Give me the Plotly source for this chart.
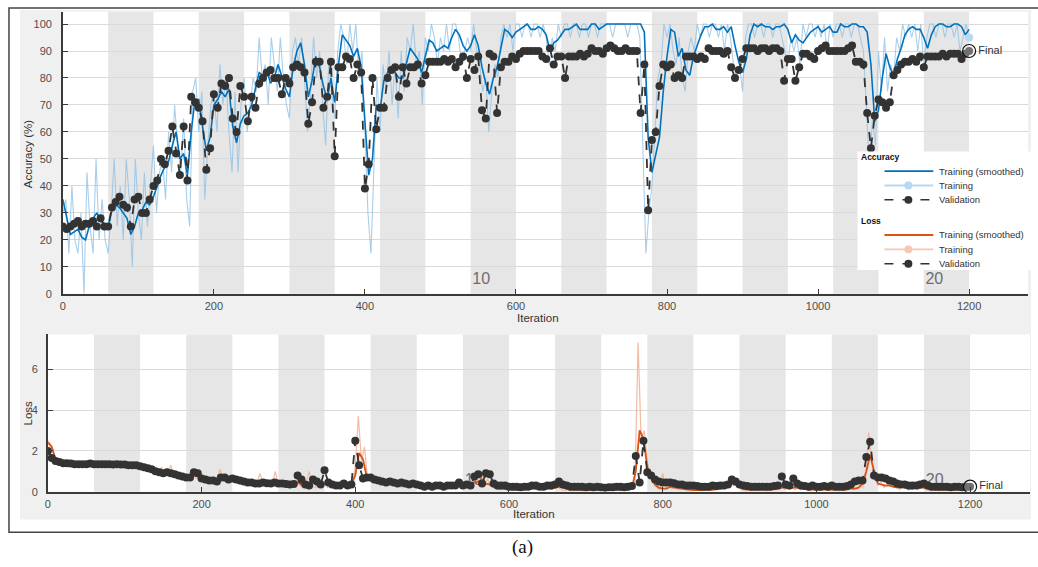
import plotly.graph_objects as go

W, H = 1038, 567

# ---------------- data ----------------
val_step = 5
acc_val = [25,24,25,26,27,25,26,26,27,25,28,25,25,
           32,34,36,33,32,25,35,36,30,30,35,40,42,50,48,53,62,52,44,62,42,73,71,69,64,46,54,74,
           69,78,77,80,65,60,77,73,64,73,69,78,80,82,83,80,80,74,80,78,84,85,84,82,63,71,86,86,69,73,86,51,84,84,88,87,80,85,82,
           39,48,80,61,69,69,80,83,84,73,84,78,84,84,85,78,81,86,86,86,86,87,86,87,84,86,88,80,87,83,88,68,65,89,88,67,84,86,86,88,87,
           89,90,90,90,90,90,88,87,91,85,88,88,80,88,88,88,89,88,89,91,90,90,89,91,92,91,90,90,91,90,90,90,67,85,31,57,60,77,85,84,
           85,80,81,80,88,88,88,87,88,87,91,90,90,90,89,90,84,80,83,87,91,91,91,90,91,91,90,91,91,90,79,87,87,79,84,89,89,88,87,90,
           91,92,90,90,90,90,90,91,92,86,86,85,67,54,66,72,71,69,71,81,83,85,86,86,87,86,88,84,88,88,88,88,89,88,89,89,89,87,89,90]

acc_smooth = [35,28,22,23,24,21,20,25,28,30,27,26,25,
              31,33,32,30,28,22,25,30,31,34,33,36,40,44,47,49,55,60,50,52,44,60,72,72,62,53,58,70,
              72,75,73,76,62,56,63,66,67,70,76,82,81,83,78,80,85,80,76,73,84,90,93,85,73,79,88,84,77,72,80,71,85,96,94,92,88,91,84,
              65,44,50,70,68,79,82,84,82,80,80,86,91,89,87,82,88,94,93,90,91,92,91,95,98,96,92,90,92,96,92,84,78,74,80,84,91,98,97,95,97,
              98,99,100,98,98,99,98,96,90,93,94,96,98,98,99,100,98,98,98,100,100,98,99,100,100,100,100,100,100,100,100,100,100,97,58,45,52,58,75,88,
              98,97,88,91,83,81,88,92,96,99,99,100,98,98,99,97,99,92,86,82,87,96,100,99,100,99,99,98,99,99,100,98,93,96,94,93,95,97,98,99,
              97,98,99,97,97,100,99,99,100,100,99,99,97,85,64,68,80,89,84,81,87,91,96,98,99,98,98,95,91,96,99,100,100,99,99,100,100,99,96,98,97]

raw_step = 4
acc_train_raw = [30,35,15,40,20,15,30,0,45,25,15,50,20,35,20,15,
                 30,50,25,40,20,50,35,10,50,30,20,45,25,40,55,30,
                 45,50,35,60,45,70,55,45,65,35,25,75,80,60,75,35,
                 55,70,75,60,85,70,80,60,45,75,45,70,80,60,70,80,
                 75,95,80,85,70,95,85,75,95,80,70,65,90,95,85,95,
                 80,60,75,95,80,90,70,55,85,75,65,90,100,95,85,100,
                 90,100,80,90,60,30,15,45,80,60,85,75,90,70,85,65,
                 90,75,95,90,100,85,90,70,95,90,100,95,85,95,90,100,
                 90,100,100,95,85,90,95,90,100,90,85,75,80,60,75,85,
                 80,95,100,95,100,90,100,100,95,100,100,95,100,100,95,100,
                 95,85,95,90,100,95,100,100,95,100,100,95,100,100,95,100,
                 100,95,100,100,100,100,95,100,100,100,100,95,100,100,100,95,
                 55,15,30,40,60,80,85,100,95,100,90,85,95,80,75,90,
                 95,90,100,95,100,100,95,100,100,95,100,90,100,95,85,80,
                 85,75,95,100,100,95,100,100,95,100,100,95,100,100,95,90,
                 85,95,90,95,85,100,95,100,100,95,100,95,100,90,100,95,
                 100,100,95,100,100,95,100,100,95,90,70,45,65,55,90,75,
                 95,75,85,80,95,90,100,95,100,95,100,90,100,85,95,100,
                 100,95,100,100,95,100,100,95,100,90,95,100,95]

loss_val = [2.0,1.65,1.5,1.45,1.4,1.4,1.38,1.35,1.35,1.35,1.35,1.38,1.35,1.35,1.35,1.35,1.35,1.33,1.35,1.33,
            1.33,1.3,1.3,1.3,1.25,1.2,1.15,1.1,1.0,0.95,0.9,0.95,0.9,0.85,0.8,0.75,0.7,0.7,0.95,0.9,
            0.65,0.6,0.55,0.55,0.5,0.7,0.7,0.6,0.65,0.6,0.55,0.5,0.45,0.45,0.4,0.4,0.45,0.42,0.4,0.45,
            0.4,0.4,0.38,0.35,0.38,0.8,0.6,0.35,0.3,0.6,0.5,0.35,1.05,0.45,0.35,0.3,0.3,0.4,0.3,0.35,
            2.5,1.3,0.65,0.7,0.7,0.6,0.55,0.5,0.45,0.5,0.45,0.4,0.45,0.4,0.35,0.4,0.35,0.3,0.25,0.3,
            0.25,0.3,0.3,0.25,0.3,0.3,0.3,0.45,0.3,0.35,0.3,0.75,0.85,0.4,0.9,0.85,0.4,0.3,0.3,0.3,
            0.25,0.25,0.25,0.22,0.25,0.25,0.3,0.3,0.25,0.25,0.3,0.3,0.35,0.5,0.35,0.3,0.25,0.25,0.25,0.25,
            0.22,0.25,0.22,0.25,0.22,0.2,0.22,0.22,0.25,0.25,0.22,0.25,0.28,1.75,0.45,2.5,0.95,0.8,0.6,0.5,
            0.45,0.45,0.45,0.42,0.35,0.35,0.3,0.3,0.3,0.28,0.25,0.25,0.25,0.3,0.28,0.3,0.3,0.35,0.6,0.5,
            0.35,0.3,0.28,0.25,0.25,0.25,0.25,0.25,0.25,0.28,0.3,0.75,0.35,0.3,0.65,0.4,0.3,0.28,0.25,0.3,
            0.25,0.25,0.28,0.25,0.3,0.25,0.25,0.25,0.28,0.35,0.5,0.55,0.55,1.7,2.45,0.8,0.7,0.7,0.65,0.55,
            0.5,0.4,0.35,0.35,0.3,0.3,0.3,0.35,0.4,0.3,0.25,0.25,0.25,0.25,0.25,0.22,0.25,0.25,0.22,0.25,0.25]

loss_smooth = [2.4,2.2,1.6,1.45,1.4,1.35,1.35,1.35,1.35,1.35,1.35,1.35,1.35,1.35,1.35,1.35,1.35,1.32,1.33,1.32,
               1.32,1.3,1.3,1.28,1.25,1.2,1.1,1.05,1.0,0.95,0.9,0.95,1.0,0.85,0.75,0.75,0.7,0.65,0.8,0.75,
               0.6,0.55,0.55,0.5,0.55,0.65,0.6,0.55,0.55,0.5,0.5,0.45,0.45,0.4,0.4,0.45,0.45,0.35,0.4,0.45,
               0.35,0.35,0.3,0.35,0.4,0.45,0.35,0.3,0.35,0.5,0.35,0.3,0.4,0.4,0.3,0.3,0.25,0.3,0.3,0.35,
               0.8,1.9,1.6,0.7,0.55,0.5,0.45,0.45,0.4,0.4,0.4,0.35,0.35,0.3,0.3,0.35,0.3,0.25,0.25,0.25,
               0.2,0.2,0.25,0.2,0.2,0.2,0.25,0.3,0.25,0.3,0.35,0.45,0.5,0.55,0.4,0.35,0.25,0.15,0.15,0.15,
               0.15,0.12,0.1,0.1,0.12,0.15,0.15,0.12,0.15,0.2,0.15,0.15,0.2,0.25,0.2,0.15,0.1,0.1,0.12,0.1,
               0.08,0.1,0.1,0.08,0.08,0.07,0.08,0.08,0.1,0.1,0.1,0.12,0.2,1.0,3.0,2.6,1.2,0.7,0.35,0.2,
               0.15,0.15,0.25,0.2,0.2,0.15,0.12,0.1,0.08,0.08,0.08,0.1,0.1,0.1,0.12,0.15,0.2,0.3,0.4,0.35,
               0.25,0.15,0.1,0.1,0.1,0.1,0.1,0.12,0.1,0.12,0.15,0.2,0.2,0.15,0.2,0.2,0.15,0.12,0.12,0.1,
               0.12,0.1,0.12,0.12,0.1,0.1,0.12,0.12,0.12,0.15,0.15,0.2,0.4,1.0,1.8,1.0,0.4,0.35,0.3,0.3,
               0.25,0.2,0.25,0.2,0.15,0.15,0.2,0.2,0.2,0.15,0.12,0.1,0.1,0.1,0.1,0.1,0.1,0.12,0.1,0.1,0.1]

loss_train_raw = [2.5,2.3,1.7,1.5,1.4,1.45,1.35,1.4,1.3,1.4,1.35,1.3,1.4,1.35,1.3,1.4,
                  1.35,1.3,1.4,1.35,1.3,1.4,1.35,1.3,1.35,1.3,1.35,1.3,1.25,1.3,1.2,1.25,
                  1.1,1.3,1.0,1.1,0.9,1.2,0.8,0.9,1.3,0.7,1.0,0.6,0.8,0.7,0.6,1.0,
                  0.7,0.6,0.9,0.5,0.6,0.4,0.7,0.6,1.1,0.5,0.6,0.4,0.7,0.5,0.4,0.6,
                  0.4,0.5,0.3,0.5,0.4,0.9,0.4,0.3,0.5,0.4,1.0,0.3,0.4,0.3,0.2,0.4,
                  0.3,0.6,0.3,0.2,0.4,1.0,0.3,0.2,0.4,0.3,0.5,0.2,0.3,0.2,0.4,0.2,
                  0.3,0.2,0.4,0.3,1.2,3.7,1.5,2.2,0.6,0.5,0.4,0.6,0.3,0.5,0.4,0.3,
                  0.5,0.3,0.4,0.2,0.4,0.3,0.2,0.5,0.3,0.2,0.3,0.2,0.2,0.3,0.15,0.2,
                  0.2,0.3,0.15,0.2,0.25,0.4,0.2,0.3,0.5,0.3,0.4,0.7,0.5,0.9,0.4,0.6,
                  0.3,0.2,0.15,0.1,0.2,0.1,0.15,0.05,0.1,0.1,0.2,0.1,0.1,0.15,0.2,0.1,
                  0.2,0.1,0.15,0.25,0.1,0.3,0.2,0.1,0.05,0.1,0.15,0.05,0.1,0.1,0.05,0.1,
                  0.1,0.05,0.1,0.08,0.05,0.1,0.05,0.1,0.08,0.15,0.05,0.1,0.1,0.15,0.2,0.5,
                  7.3,2.5,3.0,1.5,0.8,0.4,0.2,0.1,0.9,0.2,0.3,0.15,0.2,0.1,0.1,0.15,
                  0.05,0.1,0.1,0.05,0.1,0.08,0.15,0.1,0.05,0.1,0.2,0.1,0.15,0.3,0.5,0.3,
                  0.4,0.2,0.1,0.05,0.15,0.1,0.05,0.1,0.1,0.15,0.05,0.1,0.2,0.1,0.3,0.2,
                  0.1,0.2,0.3,0.1,0.2,0.1,0.15,0.1,0.05,0.1,0.2,0.1,0.08,0.15,0.1,0.05,
                  0.1,0.15,0.1,0.05,0.1,0.2,0.1,0.15,0.3,0.2,0.6,2.9,1.5,0.8,0.3,0.5,
                  0.2,0.4,0.3,0.2,0.3,0.1,0.3,0.2,0.1,0.2,0.3,0.1,0.2,0.15,0.1,0.05,
                  0.1,0.15,0.05,0.1,0.1,0.05,0.1,0.15,0.1,0.05,0.1,0.1,0.08]

iters_per_epoch = 60
n_epochs = 20
epoch_labels = ["10", "20"]
acc_ticks = list(range(0, 101, 10))
loss_ticks = [0, 2, 4, 6]
iter_ticks = list(range(0, 1201, 200))
legend_groups = ["Accuracy", "Loss"]
legend_items = ["Training (smoothed)", "Training", "Validation"]

it_val = [i * val_step for i in range(len(acc_val))]
it_raw = [i * raw_step for i in range(len(acc_train_raw))]

# ---------------- colours ----------------
BLUE = "#0072BD"
BLUE_L = "#8dbfe3"
BLUE_LEG = "#b9d7ee"
ORANGE = "#D95319"
ORANGE_L = "#f2b49a"
ORANGE_LEG = "#f5c6b3"
VAL = "#333333"
BAND = "#e6e6e6"
GRID = "#dadada"
AX = "#3a3a3a"
TXT = "#4d4d4d"
FONT = "Liberation Sans, Arial, sans-serif"


def px_x(p):
    return p / W


def px_y(p):
    return 1 - p / H


fig = go.Figure()

# epoch labels (drawn first -> beneath data)
for ax_x, ax_y, ylab in [("x", "y", 5.2), ("x2", "y2", 0.55)]:
    fig.add_trace(go.Scatter(
        x=[int(l) * iters_per_epoch - iters_per_epoch / 2 - 16 for l in epoch_labels],
        y=[ylab] * len(epoch_labels), text=epoch_labels, mode="text",
        textfont=dict(size=16, color="#6e6e6e", family=FONT),
        showlegend=False, hoverinfo="skip", xaxis=ax_x, yaxis=ax_y))

# accuracy
fig.add_trace(go.Scatter(x=it_raw, y=acc_train_raw, mode="lines", name="Training",
                         line=dict(color=BLUE_L, width=1.1), opacity=0.75,
                         xaxis="x", yaxis="y"))
fig.add_trace(go.Scatter(x=it_val, y=acc_smooth, mode="lines", name="Training (smoothed)",
                         line=dict(color=BLUE, width=1.6), xaxis="x", yaxis="y"))
fig.add_trace(go.Scatter(x=[it_raw[-1]], y=[acc_train_raw[-1]], mode="markers",
                         marker=dict(size=8, color=BLUE_LEG), xaxis="x", yaxis="y"))
fig.add_trace(go.Scatter(x=it_val, y=acc_val, mode="lines+markers", name="Validation",
                         line=dict(color=VAL, width=1.8, dash="dash"),
                         marker=dict(size=8, color=VAL), xaxis="x", yaxis="y"))
fig.add_trace(go.Scatter(x=[it_val[-1]], y=[acc_val[-1]], mode="markers+text",
                         marker=dict(size=13, color="rgba(255,255,255,0.3)", line=dict(color="#111", width=1.2)),
                         text=["Final"], textposition="middle right",
                         textfont=dict(size=11, color="#333", family=FONT),
                         xaxis="x", yaxis="y"))

# loss
fig.add_trace(go.Scatter(x=it_raw, y=loss_train_raw, mode="lines", name="Training",
                         line=dict(color=ORANGE_L, width=1.2), opacity=0.9,
                         xaxis="x2", yaxis="y2"))
fig.add_trace(go.Scatter(x=it_val, y=loss_smooth, mode="lines", name="Training (smoothed)",
                         line=dict(color=ORANGE, width=1.8), xaxis="x2", yaxis="y2"))
fig.add_trace(go.Scatter(x=it_val, y=loss_val, mode="lines+markers", name="Validation",
                         line=dict(color=VAL, width=1.8, dash="dash"),
                         marker=dict(size=8, color=VAL), xaxis="x2", yaxis="y2"))
fig.add_trace(go.Scatter(x=[it_val[-1]], y=[loss_val[-1]], mode="markers+text",
                         marker=dict(size=13, color="rgba(255,255,255,0.3)", line=dict(color="#111", width=1.2)),
                         text=["Final"], textposition="middle right",
                         textfont=dict(size=11, color="#333", family=FONT),
                         xaxis="x2", yaxis="y2"))

shapes = []
annotations = []
# frame + grey panel
shapes.append(dict(type="rect", xref="paper", yref="paper",
                   x0=px_x(17), x1=px_x(1031), y0=px_y(525), y1=px_y(10),
                   fillcolor="#f0f0f0", line=dict(width=0), layer="below"))
shapes.append(dict(type="rect", xref="paper", yref="paper",
                   x0=px_x(6), x1=px_x(1045), y0=px_y(538), y1=px_y(8),
                   fillcolor="rgba(0,0,0,0)", line=dict(color="#444", width=1.5), layer="above"))
for xr, yr in [("x", "y"), ("x2", "y2")]:
    shapes.append(dict(type="rect", xref=xr + " domain", yref=yr + " domain",
                       x0=0, x1=1, y0=0, y1=1, fillcolor="white",
                       line=dict(width=0), layer="below"))
    for e in range(2, n_epochs + 1, 2):
        shapes.append(dict(type="rect", xref=xr, yref=yr + " domain",
                           x0=(e - 1) * iters_per_epoch, x1=e * iters_per_epoch,
                           y0=0, y1=1, fillcolor=BAND, line=dict(width=0), layer="below"))

# ---- legend box (MATLAB-style, compact) ----
shapes.append(dict(type="rect", xref="paper", yref="paper",
                   x0=px_x(857), x1=px_x(1031), y0=px_y(273), y1=px_y(153),
                   fillcolor="white", line=dict(width=0), layer="above"))
leg_styles = {
    "Accuracy": [(BLUE, "solid", False), (BLUE_LEG, "solid", True), (VAL, "dash", True)],
    "Loss": [(ORANGE, "solid", False), (ORANGE_LEG, "solid", True), (VAL, "dash", True)],
}
title_y = {"Accuracy": 158.5, "Loss": 223}
for g in legend_groups:
    annotations.append(dict(text="<b>%s</b>" % g, x=px_x(858), y=px_y(title_y[g]),
                            xref="paper", yref="paper", xanchor="left", yanchor="middle",
                            showarrow=False, font=dict(size=8.5, color="#111", family=FONT)))
    for k, (name, (col, dash, dot)) in enumerate(zip(legend_items, leg_styles[g])):
        yy = title_y[g] + 14.5 * (k + 1)
        shapes.append(dict(type="line", xref="paper", yref="paper",
                           x0=px_x(884), x1=px_x(933), y0=px_y(yy), y1=px_y(yy),
                           line=dict(color=col, width=1.8 if dash == "solid" else 1.5,
                                     dash="dash" if dash == "dash" else "solid"),
                           layer="above"))
        if dot:
            shapes.append(dict(type="circle", xref="paper", yref="paper",
                               x0=px_x(904), x1=px_x(912), y0=px_y(yy + 4), y1=px_y(yy - 4),
                               fillcolor=col, line=dict(color=col, width=0), layer="above"))
        annotations.append(dict(text=name, x=px_x(937), y=px_y(yy),
                                xref="paper", yref="paper", xanchor="left", yanchor="middle",
                                showarrow=False, font=dict(size=9.5, color="#333", family=FONT)))

axis_common = dict(showline=True, linecolor=AX, linewidth=1.5, ticks="inside",
                   ticklen=5, tickcolor=AX, zeroline=False,
                   tickfont=dict(size=11, color=TXT, family=FONT))

annotations += [
    dict(text="Accuracy (%)", x=px_x(25), y=px_y(155), textangle=-90),
    dict(text="Iteration", x=px_x(537), y=px_y(321)),
    dict(text="Loss", x=px_x(25), y=px_y(417), textangle=-90),
    dict(text="Iteration", x=px_x(533), y=px_y(520)),
]
for a in annotations[-4:]:
    a.update(xref="paper", yref="paper", showarrow=False, yanchor="middle", xanchor="center",
             font=dict(size=11.5, color="#333", family=FONT))
annotations.append(dict(text="(a)", x=px_x(521), y=px_y(553), xref="paper", yref="paper",
                        xanchor="center", yanchor="middle", showarrow=False,
                        font=dict(size=19, color="#111", family="Liberation Serif, Times New Roman, serif")))

fig.update_layout(
    width=W, height=H,
    margin=dict(l=0, r=0, t=0, b=0),
    paper_bgcolor="white", plot_bgcolor="rgba(0,0,0,0)",
    font=dict(family=FONT),
    showlegend=False,
    shapes=shapes,
    annotations=annotations,
    xaxis=dict(domain=[px_x(60), px_x(1028)], range=[0, 1278], tickvals=iter_ticks,
               showgrid=False, anchor="y", ticklabelstandoff=1, **axis_common),
    yaxis=dict(domain=[px_y(297), px_y(12)], range=[0, 104.5], tickvals=acc_ticks,
               showgrid=True, gridcolor=GRID, gridwidth=1, anchor="x", ticklabelstandoff=7,
               **axis_common),
    xaxis2=dict(domain=[px_x(45), px_x(1030)], range=[0, 1278], tickvals=iter_ticks,
                showgrid=False, anchor="y2", ticklabelstandoff=1, **axis_common),
    yaxis2=dict(domain=[px_y(497), px_y(338)], range=[0, 7.7], tickvals=loss_ticks,
                showgrid=True, gridcolor=GRID, gridwidth=1, anchor="x2", ticklabelstandoff=6,
                **axis_common),
)

post = (
    "document.documentElement.style.margin='0';"
    "document.documentElement.style.overflow='hidden';"
    "document.body.style.margin='0';"
    "document.body.style.padding='0';"
    "document.body.style.overflow='hidden';"
    "var gd=document.getElementById('{plot_id}');"
    "gd.style.display='block';"
    "var vh=window.innerHeight, vw=window.innerWidth;"
    "if(vh>300 && vw>300 && (Math.abs(vh-567)>0 || Math.abs(vw-1038)>0)){"
    "  gd.style.height=vh+'px'; gd.style.width=vw+'px';"
    "  Plotly.relayout(gd,{height:vh,width:vw});"
    "}"
)

fig.write_html("out.html", config={"displayModeBar": False}, post_script=post)
